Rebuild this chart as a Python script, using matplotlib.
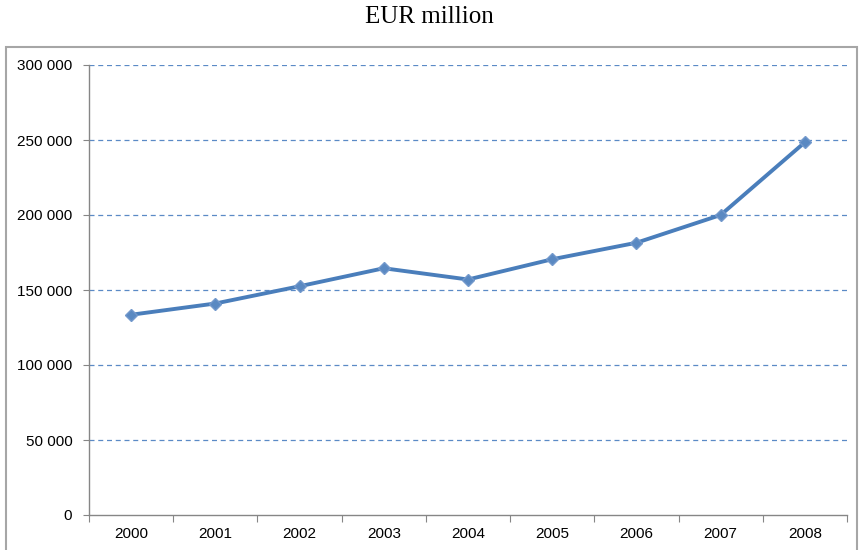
import matplotlib.pyplot as plt
import matplotlib.patches as patches
import numpy as np

# Data
years = ['2000', '2001', '2002', '2003', '2004', '2005', '2006', '2007', '2008']
values = [133500, 141000, 152500, 164500, 157000, 170500, 181500, 200000, 248500]
yticks = [0, 50000, 100000, 150000, 200000, 250000, 300000]
ytick_labels = ['0', '50 000', '100 000', '150 000', '200 000', '250 000', '300 000']

plt.rcParams['font.family'] = ['Liberation Sans', 'DejaVu Sans']

fig = plt.figure(figsize=(8.59, 5.50), dpi=100)
ax = fig.add_axes([89 / 859, 35 / 550, 758 / 859, 450 / 550])

# outer chart frame (Excel style)
frame = patches.Rectangle((6 / 859, -0.1), 851 / 859, 1.1 - 47 / 550,
                          transform=fig.transFigure, fill=False,
                          edgecolor='#a6a6a6', linewidth=1.5)
fig.patches.append(frame)

fig.text(0.5, 1 - 17 / 550, 'EUR million', ha='center', va='center',
         fontsize=18, family=['Liberation Serif', 'DejaVu Serif'])

x = np.arange(len(years))
ax.plot(x, values, color='#4a7ebb', linewidth=2.8, marker='D', markersize=6.5,
        markerfacecolor='#5a89c2', markeredgecolor='#7399cc', zorder=3)

ax.set_xlim(-0.5, len(years) - 0.5)
ax.set_ylim(0, 300000)
ax.set_yticks(yticks)
ax.set_yticklabels(ytick_labels)
ax.set_xticks(np.arange(-0.5, len(years), 1.0))
ax.set_xticklabels([])
ax.set_xticks(x, minor=True)
ax.set_xticklabels(years, minor=True)
ax.tick_params(axis='x', which='major', length=5, color='#868686')
ax.tick_params(axis='x', which='minor', length=0, pad=9, labelsize=11)
ax.tick_params(axis='y', length=4, color='#868686', pad=8, labelsize=11)

for y in yticks[1:]:
    ax.axhline(y, color='#5b8ac6', linestyle=(0, (4, 3)), linewidth=0.9, zorder=1)

for s in ['top', 'right']:
    ax.spines[s].set_visible(False)
for s in ['left', 'bottom']:
    ax.spines[s].set_color('#868686')
    ax.spines[s].set_linewidth(1)

fig.savefig('out.png', dpi=100)
